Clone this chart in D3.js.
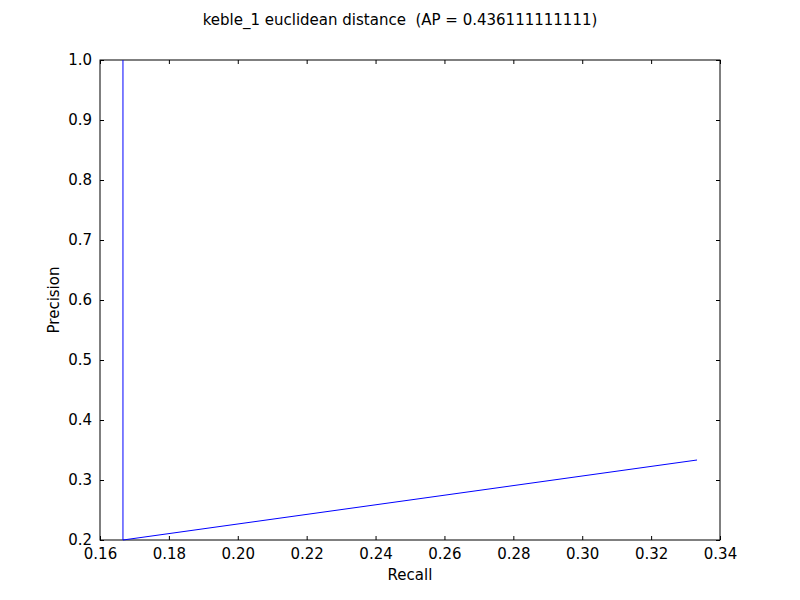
<!DOCTYPE html>
<html><head><meta charset="utf-8">
<script src="https://cdn.jsdelivr.net/npm/d3@7"></script>
<style>body{margin:0;background:#fff}text{font-family:"DejaVu Sans",sans-serif;white-space:pre}</style>
</head><body>
<svg id="chart" width="800" height="600"></svg>
<script>
// recall / precision points
var recall = [1/6, 1/6, 1/3];
var precision = [1.0, 0.2, 1/3];
var xTicks = [0.16, 0.18, 0.20, 0.22, 0.24, 0.26, 0.28, 0.30, 0.32, 0.34];
var yTicks = [0.2, 0.3, 0.4, 0.5, 0.6, 0.7, 0.8, 0.9, 1.0];

var svg = d3.select("#chart");
var mLeft = 100, mRight = 720, mTop = 60, mBottom = 540;
var x = d3.scaleLinear().domain([0.16, 0.34]).range([mLeft, mRight]);
var y = d3.scaleLinear().domain([0.2, 1.0]).range([mBottom, mTop]);

svg.append("rect").attr("width", 800).attr("height", 600).attr("fill", "#fff");

//--- axes, ticks pointing inward on all four sides
svg.append("g").attr("transform", "translate(0," + mBottom + ")")
    .call(d3.axisBottom(x).tickValues(xTicks).tickFormat(d3.format(".2f")).tickSizeInner(-4).tickSizeOuter(0).tickPadding(8));
svg.append("g").attr("transform", "translate(0," + mTop + ")")
    .call(d3.axisTop(x).tickValues(xTicks).tickFormat("").tickSizeInner(-4).tickSizeOuter(0));
svg.append("g").attr("transform", "translate(" + mLeft + ",0)")
    .call(d3.axisLeft(y).tickValues(yTicks).tickFormat(d3.format(".1f")).tickSizeInner(-4).tickSizeOuter(0).tickPadding(8));
svg.append("g").attr("transform", "translate(" + mRight + ",0)")
    .call(d3.axisRight(y).tickValues(yTicks).tickFormat("").tickSizeInner(-4).tickSizeOuter(0));
svg.selectAll(".domain").remove();
svg.selectAll(".tick text").attr("font-size", 15).attr("fill", "#000").style("font-family", "DejaVu Sans");
svg.selectAll(".tick line").attr("stroke", "#000");

svg.append("rect").attr("x", mLeft).attr("y", mTop).attr("width", mRight - mLeft).attr("height", mBottom - mTop)
    .attr("fill", "none").attr("stroke", "#000");

var pts = recall.map(function (r, i) { return [r, precision[i]]; });
svg.append("path").datum(pts)
    .attr("d", d3.line().x(function (d) { return x(d[0]); }).y(function (d) { return y(d[1]); }))
    .attr("fill", "none").attr("stroke", "#0000ff").attr("stroke-width", 1);

svg.append("text").attr("x", 410).attr("y", 580).attr("text-anchor", "middle").attr("font-size", 15).text("Recall");
svg.append("text").attr("transform", "translate(59,300) rotate(-90)").attr("text-anchor", "middle").attr("font-size", 15).text("Precision");
svg.append("text").attr("x", 400).attr("y", 25).attr("text-anchor", "middle").attr("font-size", 15)
    .text("keble_1 euclidean distance  (AP = 0.436111111111)");
</script>
</body></html>
